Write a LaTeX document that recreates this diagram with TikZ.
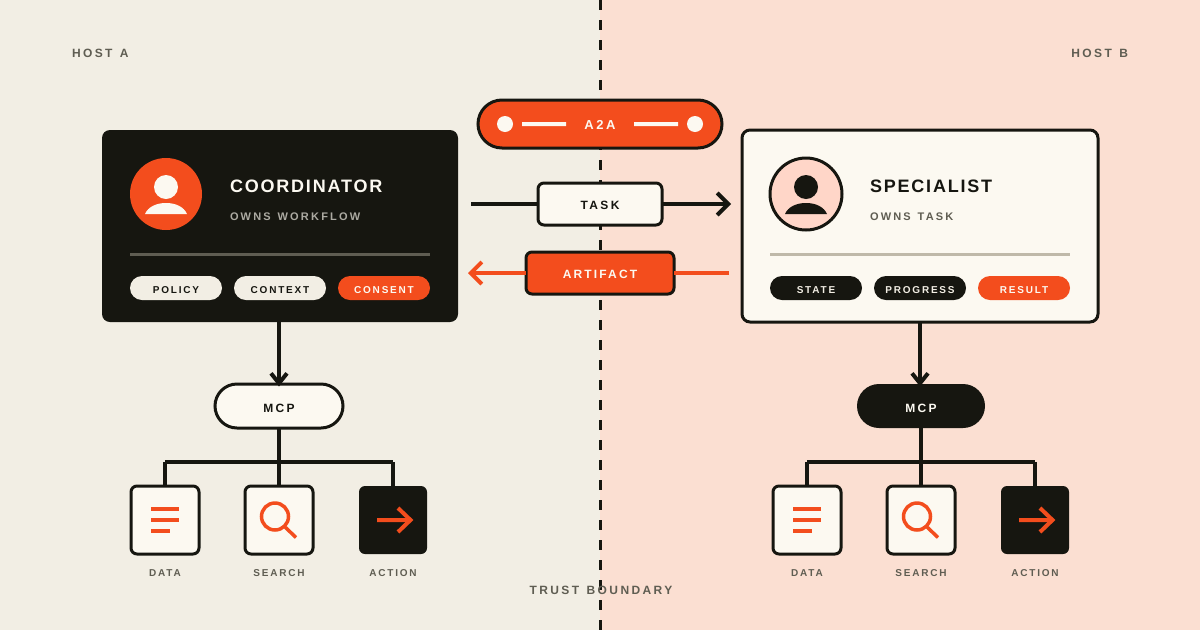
\documentclass[tikz,border=0pt]{standalone}
\usepackage{fontspec}
\setmainfont{Liberation Sans}[WordSpace=1.3]
\usetikzlibrary{arrows.meta,calc,positioning}
\definecolor{ink}{HTML}{161610}
\definecolor{flame}{HTML}{F34D1D}
\definecolor{paper}{HTML}{F2EEE4}
\definecolor{blush}{HTML}{FBDFD2}
\definecolor{cream}{HTML}{FCF9F1}
\definecolor{peach}{HTML}{FFD6C8}
\definecolor{slate}{HTML}{5F5D52}
\definecolor{rulelight}{HTML}{BFB9A9}
\newcommand{\spaced}[2]{\fontsize{#1}{#1}\selectfont\bfseries\addfontfeature{LetterSpace=#2}}
\tikzset{
  flat/.style={rectangle,inner sep=0pt,outer sep=0pt},
  cardbox/.style={flat,minimum width=356pt,minimum height=192pt,rounded corners=8pt},
  tagbox/.style={flat,minimum width=92pt,minimum height=24pt,rounded corners=12pt,
    font=\spaced{10}{18},text height=10pt,text depth=0pt},
  toolbox/.style={flat,minimum width=68pt,minimum height=68pt,rounded corners=6pt},
  mcpbox/.style={flat,minimum width=128pt,minimum height=44pt,rounded corners=22pt,
    font=\spaced{12}{20},text height=12pt,text depth=0pt},
  msgbox/.style={flat,line width=3pt,rounded corners=6pt,minimum height=42pt,
    text height=10pt,text depth=0pt},
  title/.style={flat,anchor=base west,font=\spaced{18}{10}},
  subtitle/.style={flat,anchor=base west,font=\spaced{11}{20}},
  caption/.style={flat,anchor=base,font=\spaced{10}{18},text=slate},
  link/.style={line width=4pt,ink},
  bigtip/.style={-{Straight Barb[length=11pt,width=22pt]}},
  smalltip/.style={-{Straight Barb[length=10pt,width=16pt]}},
}
\begin{document}
\begin{tikzpicture}[x=1pt,y=-1pt]
  \useasboundingbox (0,0) rectangle (1200,630);
  \fill[paper] (0,0) rectangle (600,630);
  \fill[blush] (600,0) rectangle (1200,630);
  \coordinate (bordertop) at (600,0);
  \coordinate (borderend) at (600,630);
  \draw[ink,line width=3pt,dash pattern=on 10pt off 10pt] (bordertop) -- (borderend);

  \node[flat,anchor=base west,font=\spaced{12}{20},text=slate] (hosta) at (72,57) {HOST A};
  \node[flat,anchor=base east,font=\spaced{12}{20},text=slate] (hostb) at (1128,57) {HOST B};
  \node[flat,anchor=base,font=\spaced{12}{20},text=slate] (trust) at (601,594) {TRUST BOUNDARY};

  \node[cardbox,fill=ink] (coordinator) at (280,226) {};
  \node[cardbox,fill=cream,draw=ink,line width=3pt] (specialist) at (920,226) {};

  \node[flat,circle,fill=flame,minimum size=72pt] (avatara) at (166,194) {};
  \node[flat,circle,fill=peach,draw=ink,line width=3pt,minimum size=72pt] (avatarb) at (806,194) {};
  \foreach \who/\cx/\tone in {a/166/cream,b/806/ink} {
    \fill[\tone] (\cx,187) circle (12);
    \fill[\tone] ({\cx-21},214) .. controls ({\cx-18},207) and ({\cx-10},203) .. (\cx,203)
      .. controls ({\cx+10},203) and ({\cx+18},207) .. ({\cx+21},214) -- cycle;
  }

  \node[title,text=cream] (namea) at (230,192) {COORDINATOR};
  \node[subtitle,text=cream!65!ink] (rolea) at (230,220) {OWNS WORKFLOW};
  \node[title,text=ink] (nameb) at (870,192) {SPECIALIST};
  \node[subtitle,text=slate] (roleb) at (870,220) {OWNS TASK};
  \fill[slate] (130,252.5) rectangle (430,255.5);
  \fill[rulelight] (770,252.5) rectangle (1070,255.5);

  \node[tagbox,fill=paper,text=ink] (policy) at (176,288) {POLICY};
  \node[tagbox,fill=paper,text=ink] (context) at (280,288) {CONTEXT};
  \node[tagbox,fill=flame,text=cream] (consent) at (384,288) {CONSENT};
  \node[tagbox,fill=ink,text=paper] (state) at (816,288) {STATE};
  \node[tagbox,fill=ink,text=paper] (progress) at (920,288) {PROGRESS};
  \node[tagbox,fill=flame,text=cream] (result) at (1024,288) {RESULT};

  \node[flat,fill=flame,draw=ink,line width=3pt,minimum width=244pt,minimum height=48pt,
    rounded corners=24pt,text=cream,font=\spaced{13}{20},text height=10pt,text depth=0pt] (atoa) at (600,124) {A2A};
  \fill[cream] (505,124) circle (8) (695,124) circle (8);
  \fill[cream] (522,122) rectangle (566,126) (634,122) rectangle (678,126);

  \node[msgbox,fill=cream,draw=ink,minimum width=124pt,text=ink,font=\spaced{12}{20}] (task) at (600,204) {TASK};
  \node[msgbox,fill=flame,draw=ink,minimum width=148pt,text=cream,font=\spaced{12}{18}] (artifact) at (600,273) {ARTIFACT};
  \coordinate (taskfrom) at (471,204);
  \coordinate (taskto) at (731,204);
  \coordinate (artifactfrom) at (729,273);
  \coordinate (artifactto) at (468,273);
  \draw[link] (taskfrom) -- (task);
  \draw[link,bigtip] (task) -- (taskto);
  \draw[link,flame] (artifactfrom) -- (artifact);
  \draw[link,flame,bigtip] (artifact) -- (artifactto);

  \node[mcpbox,fill=cream,draw=ink,line width=3pt,text=ink] (mcpa) at (279,406) {MCP};
  \node[mcpbox,fill=ink,text=cream] (mcpb) at (921,406) {MCP};
  \coordinate (mcpatip) at (279,386.5);
  \coordinate (mcpbtip) at (920,386.5);
  \draw[link,smalltip] (coordinator.south -| mcpatip) -- (mcpatip);
  \draw[link,smalltip] (specialist.south -| mcpbtip) -- (mcpbtip);

  \foreach \side/\cx in {a/165,b/807} {
    \node[toolbox,fill=cream,draw=ink,line width=3pt] (data\side) at (\cx,520) {};
    \node[toolbox,fill=cream,draw=ink,line width=3pt] (search\side) at ({\cx+114},520) {};
    \node[toolbox,fill=ink] (action\side) at ({\cx+228},520) {};
    \node[caption] (datatext\side) at (\cx,576) {DATA};
    \node[caption] (searchtext\side) at ({\cx+114},576) {SEARCH};
    \node[caption] (actiontext\side) at ({\cx+228},576) {ACTION};
    \coordinate (fork\side) at ({\cx+114},462);
    \draw[link] (mcp\side) -- (search\side);
    \draw[link] (data\side.north |- fork\side) -- (action\side.north |- fork\side);
    \draw[link] (data\side.north) -- (data\side.north |- fork\side);
    \draw[link] (action\side.north) -- (action\side.north |- fork\side);
    \draw[flame,line width=4pt] ({\cx-14},509) -- ++(28,0) ({\cx-14},520) -- ++(28,0) ({\cx-14},531) -- ++(19,0);
    \draw[flame,line width=3.5pt] ({\cx+110},516.5) circle (13.5) ({\cx+120},527) -- ({\cx+131},537.5);
    \draw[flame,line width=4pt] ({\cx+212},520) -- ({\cx+245},520) ({\cx+233},508) -- ({\cx+245.5},520) -- ({\cx+233},532);
  }
\end{tikzpicture}
\end{document}
